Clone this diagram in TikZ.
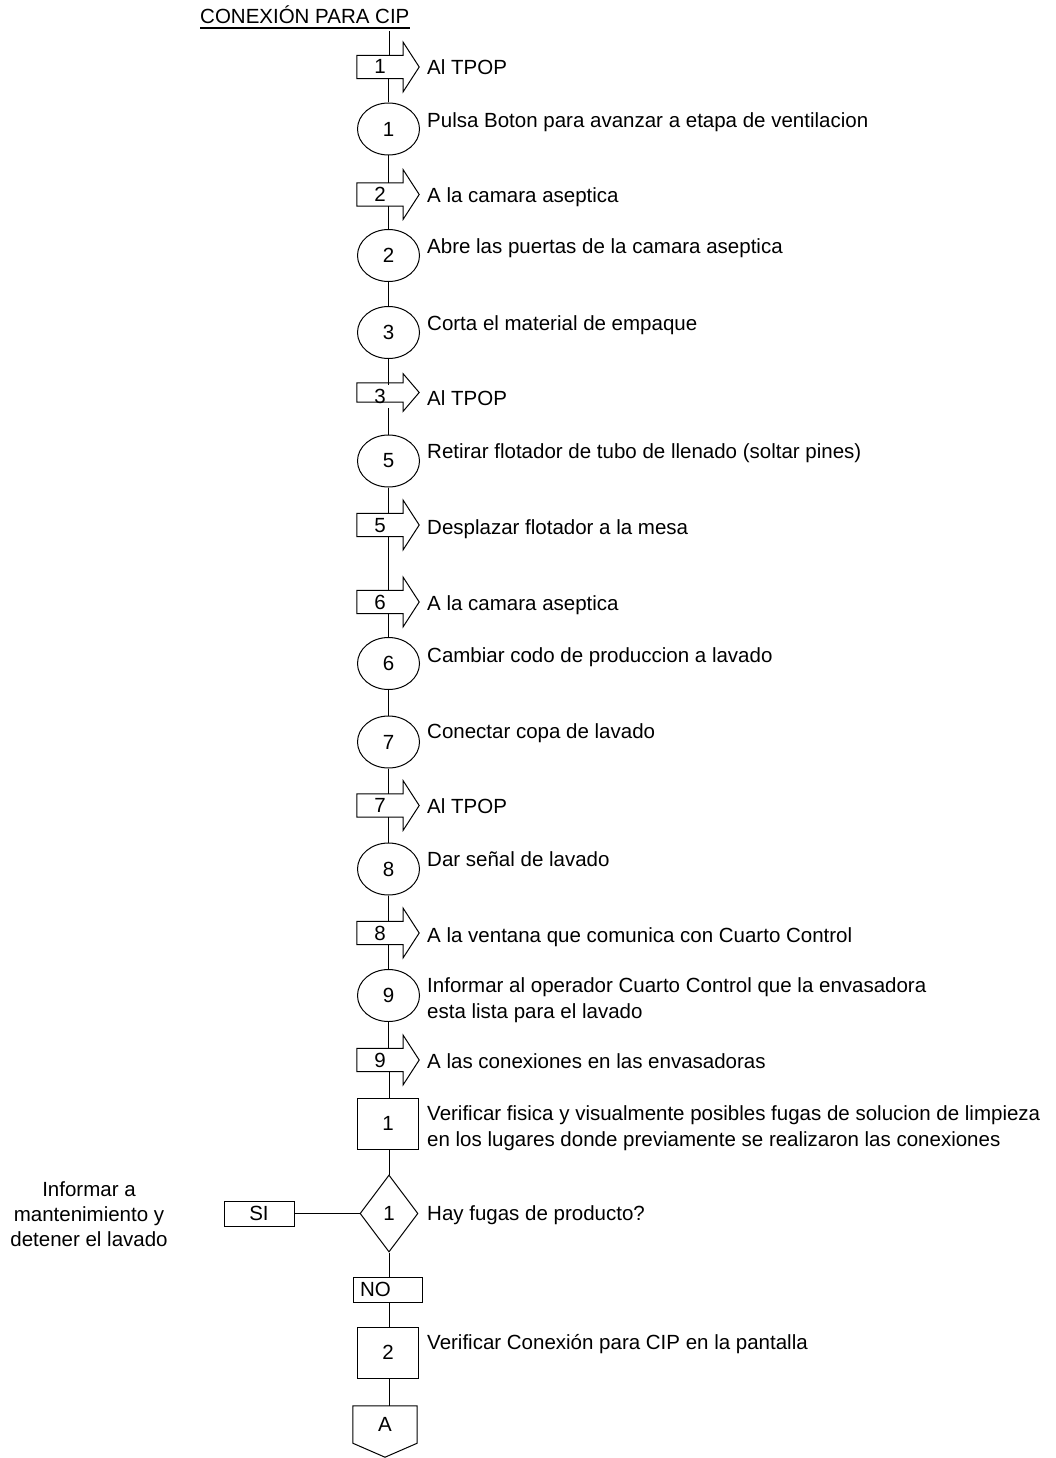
\documentclass[tikz,border=0pt]{standalone}
\usepackage{fontspec}
\setmainfont{Liberation Sans}
\usetikzlibrary{shapes.geometric,calc}
\tikzset{
  every node/.style={font=\fontsize{20.5}{26}\selectfont},
  stepcirc/.style={ellipse, draw, line width=1pt, minimum width=62, minimum height=52, inner sep=0},
  stepbox/.style={rectangle, draw, line width=1pt, minimum width=61, minimum height=51, inner sep=0},
  decis/.style={diamond, draw, line width=1pt, minimum width=58, minimum height=77, inner sep=0},
  tshaft/.style={rectangle, draw=none, minimum width=46, inner sep=0, text height=14, text depth=0},
  answer/.style={rectangle, draw, line width=1pt, minimum height=25, inner sep=0},
  lbl/.style={anchor=north west, inner sep=0, align=left},
  conn/.style={line width=1pt},
}
\newcommand{\transp}[5]{%
  \node[tshaft, minimum height=#4] (#1) at (380,#2) {#3};
  \draw[conn] (#1.north east) -- ++(0,-#5) -- ($(#1.east)+(16,0)$) -- ($(#1.south east)+(0,#5)$) -- (#1.south east) -- (#1.south west) -- (#1.north west) -- cycle;
}
\begin{document}
\begin{tikzpicture}[x=1pt,y=-1pt]
\useasboundingbox (0,0) rectangle (1056,1458);
% title
\node[anchor=base west, inner sep=0] (title) at (200,24) {CONEXIÓN PARA CIP};
\draw[line width=1.2pt] ([yshift=-4pt]title.base west) -- ([yshift=-4pt]title.base east);
\coordinate (top) at (389,31);

% shapes
\transp{t1}{67}{1}{23}{13}
\node[stepcirc] (c1) at (388.5,129) {1};
\transp{t2}{194.5}{2}{23}{13}
\node[stepcirc] (c2) at (388.5,255.5) {2};
\node[stepcirc] (c3) at (388.5,332.5) {3};
\transp{t3}{392.5}{\raisebox{-3.5pt}{3}}{19}{9}
\node[stepcirc] (c5) at (388.5,461) {5};
\transp{t5}{525}{5}{23}{13}
\transp{t6}{602}{6}{23}{13}
\node[stepcirc] (c6) at (388.5,663.5) {6};
\node[stepcirc] (c7) at (388.5,742) {7};
\transp{t7}{805.5}{7}{23}{13}
\node[stepcirc] (c8) at (388.5,869) {8};
\transp{t8}{933}{8}{23}{13}
\node[stepcirc] (c9) at (388.5,995.5) {9};
\transp{t9}{1060}{9}{23}{13}
\node[stepbox] (r1) at (388,1123.5) {1};
\node[decis] (d1) at (389,1213.5) {1};
\node[answer, minimum width=70] (si) at (259,1213.5) {SI};
\node[answer, text width=55, align=left, inner xsep=7] (no) at (387.5,1289.5) {NO};
\node[stepbox] (r2) at (388,1352.5) {2};
\node[rectangle, minimum width=64, minimum height=37, inner sep=0] (A) at (385,1424.5) {A};
\draw[conn] (A.south west) -- (A.north west) -- (A.north east) -- (A.south east) -- ($(A.south)+(0,14)$) -- cycle;

% connectors
\draw[conn] (top) -- (top |- t1.north);
\draw[conn] (t1.south -| c1.north) -- (c1.north);
\draw[conn] (c1.south) -- (c1.south |- t2.north);
\draw[conn] (t2.south -| c2.north) -- (c2.north);
\draw[conn] (c2.south) -- (c3.north);
\draw[conn] (c3.south) -- ([yshift=-2pt]c3.south |- t3.north);
\draw[conn] ([yshift=-6pt]t3.south -| c5.north) -- (c5.north);
\draw[conn] (c5.south) -- (c5.south |- t5.north);
\draw[conn] (t5.south -| c5.south) -- (c5.south |- t6.north);
\draw[conn] (t6.south -| c6.north) -- (c6.north);
\draw[conn] (c6.south) -- (c7.north);
\draw[conn] (c7.south) -- (c7.south |- t7.north);
\draw[conn] (t7.south -| c8.north) -- (c8.north);
\draw[conn] (c8.south) -- (c8.south |- t8.north);
\draw[conn] (t8.south -| c9.north) -- (c9.north);
\draw[conn] (c9.south) -- (c9.south |- t9.north);
\draw[conn] (t9.south -| d1.north) -- (d1.north |- r1.north);
\draw[conn] (r1.south -| d1.north) -- (d1.north);
\draw[conn] (d1.west) -- (si.east);
\draw[conn] (d1.south) -- (d1.south |- no.north);
\draw[conn] (no.south -| d1.south) -- (d1.south |- r2.north);
\draw[conn] (r2.south -| d1.south) -- (d1.south |- A.north);

% labels
\node[lbl] (l1) at (427,59) {Al TPOP};
\node[lbl] (l2) at (427,112) {Pulsa Boton para avanzar a etapa de ventilacion};
\node[lbl] (l3) at (427,187) {A la camara aseptica};
\node[lbl] (l4) at (427,238) {Abre las puertas de la camara aseptica};
\node[lbl] (l5) at (427,315) {Corta el material de empaque};
\node[lbl] (l6) at (427,390) {Al TPOP};
\node[lbl] (l7) at (427,443) {Retirar flotador de tubo de llenado (soltar pines)};
\node[lbl] (l8) at (427,519) {Desplazar flotador a la mesa};
\node[lbl] (l9) at (427,595) {A la camara aseptica};
\node[lbl] (l10) at (427,647) {Cambiar codo de produccion a lavado};
\node[lbl] (l11) at (427,723) {Conectar copa de lavado};
\node[lbl] (l12) at (427,798) {Al TPOP};
\node[lbl] (l13) at (427,851) {Dar señal de lavado};
\node[lbl] (l14) at (427,927) {A la ventana que comunica con Cuarto Control};
\node[lbl] (l15) at (427,977) {Informar al operador Cuarto Control que la envasadora\\esta lista para el lavado};
\node[lbl] (l16) at (427,1053) {A las conexiones en las envasadoras};
\node[lbl] (l17) at (427,1105) {Verificar fisica y visualmente posibles fugas de solucion de limpieza\\en los lugares donde previamente se realizaron las conexiones};
\node[lbl] (l18) at (427,1205) {Hay fugas de producto?};
\node[lbl] (l19) at (427,1334) {Verificar Conexión para CIP en la pantalla};
\node[anchor=north, inner sep=0, align=center, font=\fontsize{20.5}{25}\selectfont] (left) at (89,1181) {Informar a\\mantenimiento y\\detener el lavado};
\end{tikzpicture}
\end{document}
